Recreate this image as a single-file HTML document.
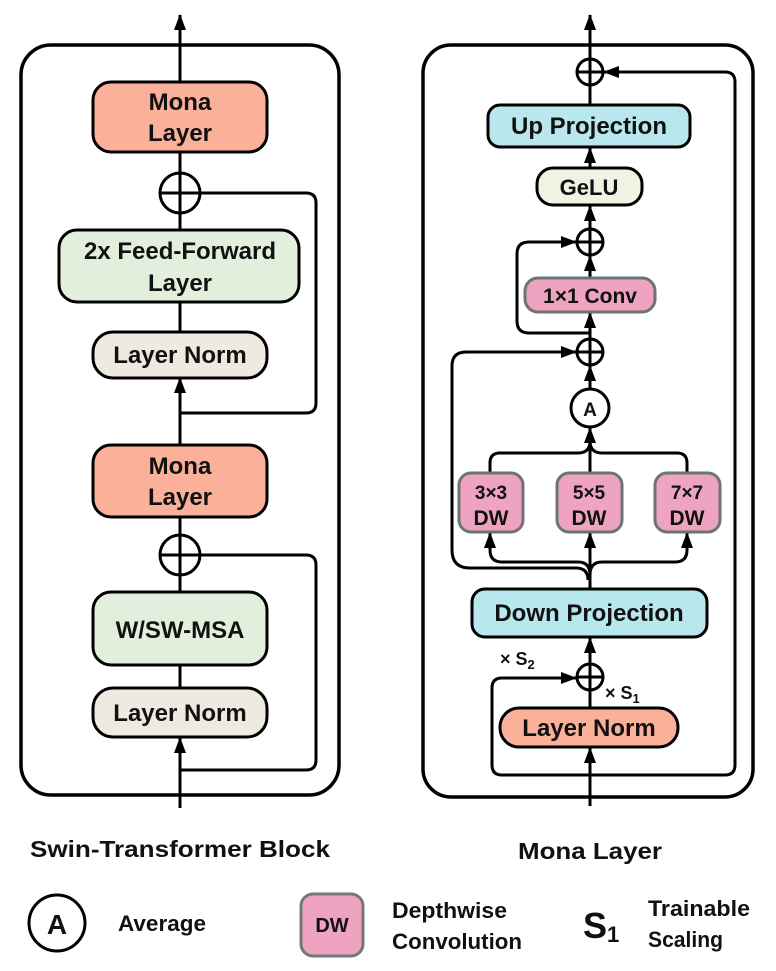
<!DOCTYPE html>
<html><head><meta charset="utf-8"><style>
html,body{margin:0;padding:0;background:#fff;}
svg{display:block;}
text{font-family:"Liberation Sans",Arial,sans-serif;font-weight:bold;fill:#111;}
</style></head><body>
<svg width="776" height="971" viewBox="0 0 776 971" xmlns="http://www.w3.org/2000/svg">
<defs>
<marker id="ah" viewBox="0 0 16 12" refX="15" refY="6" markerWidth="16" markerHeight="13" markerUnits="userSpaceOnUse" orient="auto"><path d="M0,0 L16,6 L0,12 z" fill="#000"/></marker>
</defs>
<g fill="none" stroke="#000" stroke-width="3">
<!-- LEFT -->
<rect x="21" y="45" width="318" height="750" rx="30" stroke-width="3.5"/>
<line x1="180" y1="808" x2="180" y2="738" marker-end="url(#ah)"/>
<line x1="180" y1="688" x2="180" y2="665"/>
<line x1="180" y1="592" x2="180" y2="517"/>
<line x1="180" y1="445" x2="180" y2="378" marker-end="url(#ah)"/>
<line x1="180" y1="332" x2="180" y2="301"/>
<line x1="180" y1="230" x2="180" y2="152"/>
<line x1="180" y1="82" x2="180" y2="15" marker-end="url(#ah)"/>
<path d="M200,555 H306 Q316,555 316,565 V760 Q316,770 306,770 H180"/>
<path d="M200,193 H306 Q316,193 316,203 V403 Q316,413 306,413 H180"/>
<circle cx="180" cy="555" r="20" fill="#fff"/><line x1="160" y1="555" x2="200" y2="555"/><line x1="180" y1="535" x2="180" y2="575"/>
<circle cx="180" cy="193" r="20" fill="#fff"/><line x1="160" y1="193" x2="200" y2="193"/><line x1="180" y1="173" x2="180" y2="213"/>
<rect x="93" y="82" width="174" height="70" rx="18" fill="#fbb09a" stroke-width="3"/>
<rect x="59" y="230" width="240" height="72" rx="18" fill="#e3efdd" stroke-width="3"/>
<rect x="93" y="332" width="174" height="46" rx="20" fill="#eeeae0" stroke-width="3"/>
<rect x="93" y="445" width="174" height="72" rx="18" fill="#fbb09a" stroke-width="3"/>
<rect x="93" y="592" width="174" height="73" rx="18" fill="#e3efdd" stroke-width="3"/>
<rect x="93" y="688" width="174" height="49" rx="20" fill="#eeeae0" stroke-width="3"/>
<!-- RIGHT -->
<rect x="423" y="45" width="330" height="752" rx="28" stroke-width="3.5"/>
<line x1="590" y1="806" x2="590" y2="748" marker-end="url(#ah)"/>
<path d="M590,775 H725 Q735,775 735,765 V82 Q735,72 725,72 H604" marker-end="url(#ah)"/>
<path d="M590,775 H502 Q492,775 492,765 V688 Q492,678 502,678 H576" marker-end="url(#ah)"/>
<line x1="590" y1="708" x2="590" y2="638" marker-end="url(#ah)"/>
<line x1="590" y1="589" x2="590" y2="533" marker-end="url(#ah)"/>
<path d="M590,575 Q590,562 578,562 H502 Q490,562 490,550 V533" marker-end="url(#ah)"/>
<path d="M590,575 Q590,562 602,562 H675 Q687,562 687,550 V533" marker-end="url(#ah)"/>
<path d="M588,580 Q588,568 576,568 H470 Q452,568 452,550 V366 Q452,352 466,352 H576" marker-end="url(#ah)"/>
<path d="M490,473 V463 Q490,453 500,453 H578 Q590,453 590,441"/>
<path d="M687,473 V463 Q687,453 677,453 H602 Q590,453 590,441"/>
<line x1="590" y1="473" x2="590" y2="428" marker-end="url(#ah)"/>
<line x1="590" y1="389" x2="590" y2="366" marker-end="url(#ah)"/>
<path d="M590,333 H529 Q517,333 517,321 V254 Q517,242 529,242 H576" marker-end="url(#ah)"/>
<line x1="590" y1="339" x2="590" y2="313" marker-end="url(#ah)"/>
<line x1="590" y1="278" x2="590" y2="256" marker-end="url(#ah)"/>
<line x1="590" y1="229" x2="590" y2="206" marker-end="url(#ah)"/>
<line x1="590" y1="168" x2="590" y2="148" marker-end="url(#ah)"/>
<line x1="590" y1="105" x2="590" y2="15" marker-end="url(#ah)"/>
<g>
<circle cx="590" cy="677" r="13" fill="#fff"/><line x1="577" y1="677" x2="603" y2="677"/><line x1="590" y1="664" x2="590" y2="690"/>
<circle cx="590" cy="352" r="13" fill="#fff"/><line x1="577" y1="352" x2="603" y2="352"/><line x1="590" y1="339" x2="590" y2="365"/>
<circle cx="590" cy="242" r="13" fill="#fff"/><line x1="577" y1="242" x2="603" y2="242"/><line x1="590" y1="229" x2="590" y2="255"/>
<circle cx="590" cy="72" r="13" fill="#fff"/><line x1="577" y1="72" x2="603" y2="72"/><line x1="590" y1="59" x2="590" y2="85"/>
</g>
<circle cx="590" cy="408" r="19" fill="#fff"/>
<rect x="488" y="105" width="202" height="42" rx="12" fill="#b9e7ee" stroke-width="3"/>
<rect x="537" y="168" width="105" height="37" rx="16" fill="#f1f2e3" stroke-width="3"/>
<rect x="525" y="278" width="130" height="34" rx="13" fill="#eea3c0" stroke="#6e7375" stroke-width="3"/>
<rect x="459" y="473" width="64" height="59" rx="12" fill="#eea3c0" stroke="#6e7375" stroke-width="3"/>
<rect x="557" y="473" width="65" height="59" rx="12" fill="#eea3c0" stroke="#6e7375" stroke-width="3"/>
<rect x="655" y="473" width="65" height="59" rx="12" fill="#eea3c0" stroke="#6e7375" stroke-width="3"/>
<rect x="472" y="589" width="235" height="48" rx="13" fill="#b9e7ee" stroke-width="3"/>
<rect x="500" y="708" width="178" height="39" rx="19" fill="#fbb09a" stroke-width="3"/>
<!-- legend -->
<circle cx="57" cy="923" r="28"/>
<rect x="301" y="894" width="62" height="62" rx="12" fill="#eea3c0" stroke="#777" stroke-width="3"/>
</g>
<g text-anchor="middle" font-size="24">
<text x="180" y="110">Mona</text><text x="180" y="141">Layer</text>
<text x="180" y="259">2x Feed-Forward</text><text x="180" y="291">Layer</text>
<text x="180" y="363">Layer Norm</text>
<text x="180" y="474">Mona</text><text x="180" y="505">Layer</text>
<text x="180" y="638">W/SW-MSA</text>
<text x="180" y="721">Layer Norm</text>
<text x="589" y="134">Up Projection</text>
<text x="589" y="195" font-size="22">GeLU</text>
<text x="590" y="303" font-size="21">1×1 Conv</text>
<text x="590" y="416" font-size="19">A</text>
<text x="491" y="499" font-size="19">3×3</text><text x="491" y="525" font-size="21">DW</text>
<text x="589" y="499" font-size="19">5×5</text><text x="589" y="525" font-size="21">DW</text>
<text x="687" y="499" font-size="19">7×7</text><text x="687" y="525" font-size="21">DW</text>
<text x="589" y="621">Down Projection</text>
<text x="589" y="736">Layer Norm</text>
<text x="180" y="857" font-size="23" textLength="300" lengthAdjust="spacingAndGlyphs">Swin-Transformer Block</text>
<text x="590" y="859" font-size="23" textLength="144" lengthAdjust="spacingAndGlyphs">Mona Layer</text>
<text x="57" y="934" font-size="28" font-weight="normal">A</text>
<text x="332" y="932" font-size="20" font-weight="normal">DW</text>
</g>
<text x="500" y="665" font-size="18">× S<tspan font-size="13" dy="4">2</tspan></text>
<text x="605" y="699" font-size="18">× S<tspan font-size="13" dy="4">1</tspan></text>
<g font-size="22">
<text x="118" y="931" textLength="88" lengthAdjust="spacingAndGlyphs">Average</text>
<text x="392" y="918" textLength="115" lengthAdjust="spacingAndGlyphs">Depthwise</text>
<text x="392" y="949" textLength="130" lengthAdjust="spacingAndGlyphs">Convolution</text>
<text x="648" y="916" textLength="102" lengthAdjust="spacingAndGlyphs">Trainable</text>
<text x="648" y="947" textLength="75" lengthAdjust="spacingAndGlyphs">Scaling</text>
<text x="583" y="938" font-size="36">S<tspan font-size="22" dy="4">1</tspan></text>
</g>
</svg>
</body></html>
